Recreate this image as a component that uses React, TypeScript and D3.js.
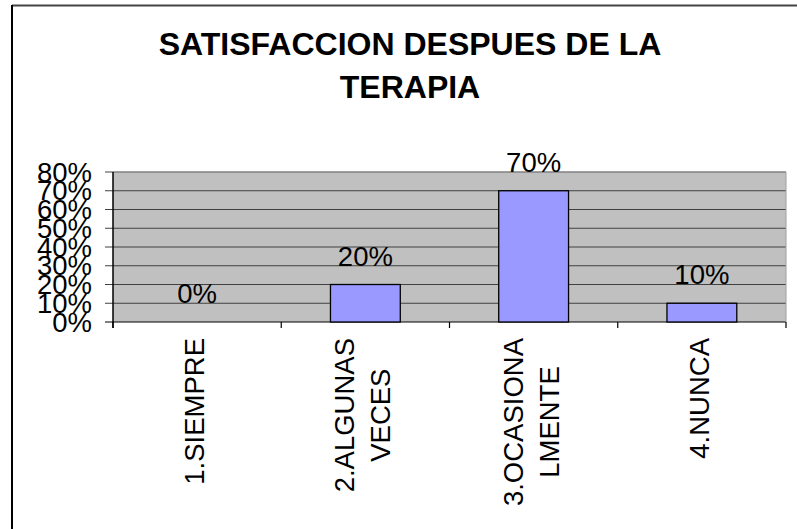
import { scaleBand, scaleLinear } from "d3";

const categories = ["1.SIEMPRE", "2.ALGUNAS VECES", "3.OCASIONA LMENTE", "4.NUNCA"];
const categoryLines = [["1.SIEMPRE"], ["2.ALGUNAS", "VECES"], ["3.OCASIONA", "LMENTE"], ["4.NUNCA"]];
const values = [0, 0.2, 0.7, 0.1];
const yTicks = [0, 0.1, 0.2, 0.3, 0.4, 0.5, 0.6, 0.7, 0.8];
const titleLines = ["SATISFACCION DESPUES DE LA", "TERAPIA"];

const WIDTH = 797;
const HEIGHT = 529;
const PLOT_LEFT = 113;
const PLOT_RIGHT = 786;
const PLOT_TOP = 172;
const PLOT_BOTTOM = 322;
const FONT = "'Liberation Sans', Arial, sans-serif";
const LABEL_SIZE = 27.5;
const LINE_GAP = 36;

function measure(text: string, size: number) {
  const canvas = document.createElement("canvas");
  const ctx = canvas.getContext("2d");
  if (!ctx) return text.length * size * 0.6;
  ctx.font = `${size}px 'Liberation Sans', Arial, sans-serif`;
  return ctx.measureText(text).width;
}

const pct = (v: number) => `${Math.round(v * 100)}%`;

export default function App() {
  const x = scaleBand<string>().domain(categories).range([PLOT_LEFT, PLOT_RIGHT]).paddingInner(0).paddingOuter(0);
  const y = scaleLinear().domain([0, 0.8]).range([PLOT_BOTTOM, PLOT_TOP]);
  const barWidth = x.bandwidth() * 0.415;
  const tickEdges = [...categories.map((c) => x(c) ?? 0), PLOT_RIGHT];

  return (
    <svg
      width={WIDTH}
      height={HEIGHT}
      style={{ position: "absolute", left: 0, top: 0, background: "#fff" }}
      fontFamily={FONT}
    >
      <line x1={12} y1={5.5} x2={WIDTH} y2={5.5} stroke="#444" strokeWidth={2} />
      <line x1={12} y1={5} x2={12} y2={HEIGHT} stroke="#000" strokeWidth={2} />

      {titleLines.map((t, i) => (
        <text key={t} x={410} y={55 + i * 43} textAnchor="middle" fontSize={32} fontWeight="bold" fill="#000">
          {t}
        </text>
      ))}

      <rect x={PLOT_LEFT} y={PLOT_TOP} width={PLOT_RIGHT - PLOT_LEFT} height={PLOT_BOTTOM - PLOT_TOP} fill="#c0c0c0" />
      {yTicks.map((t) => (
        <line
          key={t}
          x1={PLOT_LEFT - 8}
          x2={PLOT_RIGHT}
          y1={y(t)}
          y2={y(t)}
          stroke={t === 0.8 ? "#808080" : t === 0 ? "#000" : "#404040"}
          strokeWidth={t === 0.8 ? 1.5 : 1.2}
        />
      ))}
      <line x1={PLOT_RIGHT} x2={PLOT_RIGHT} y1={PLOT_TOP} y2={PLOT_BOTTOM} stroke="#a0a0a0" strokeWidth={1} />
      <line x1={PLOT_LEFT} x2={PLOT_LEFT} y1={PLOT_TOP} y2={PLOT_BOTTOM + 6} stroke="#000" strokeWidth={1.5} />
      {tickEdges.map((tx, i) => (
        <line key={i} x1={tx} x2={tx} y1={PLOT_BOTTOM} y2={PLOT_BOTTOM + 6} stroke="#000" strokeWidth={1.2} />
      ))}

      {yTicks.map((t) => (
        <text key={t} x={92} y={y(t)} dy="0.35em" textAnchor="end" fontSize={LABEL_SIZE} fill="#000">
          {pct(t)}
        </text>
      ))}

      {categories.map((c, i) => {
        const cx = (x(c) ?? 0) + x.bandwidth() / 2;
        return (
          <g key={c}>
            {values[i] > 0 ? (
              <rect
                x={cx - barWidth / 2}
                y={y(values[i])}
                width={barWidth}
                height={y(0) - y(values[i])}
                fill="#9999ff"
                stroke="#000"
                strokeWidth={1.3}
              />
            ) : null}
            <text x={cx} y={y(values[i]) - 19} textAnchor="middle" fontSize={LABEL_SIZE} fill="#000">
              {pct(values[i])}
            </text>
          </g>
        );
      })}

      {categories.map((c, i) => {
        const cx = (x(c) ?? 0) + x.bandwidth() / 2;
        const lines = categoryLines[i];
        const maxLen = Math.max(...lines.map((l) => measure(l, LABEL_SIZE)));
        const cy = 338 + maxLen / 2;
        return (
          <g key={c}>
            {lines.map((l, j) => {
              const bx = cx + 7 + (j - (lines.length - 1) / 2) * LINE_GAP;
              return (
                <text
                  key={l}
                  transform={`translate(${bx},${cy}) rotate(-90)`}
                  textAnchor="middle"
                  fontSize={LABEL_SIZE}
                  fill="#000"
                >
                  {l}
                </text>
              );
            })}
          </g>
        );
      })}
    </svg>
  );
}
